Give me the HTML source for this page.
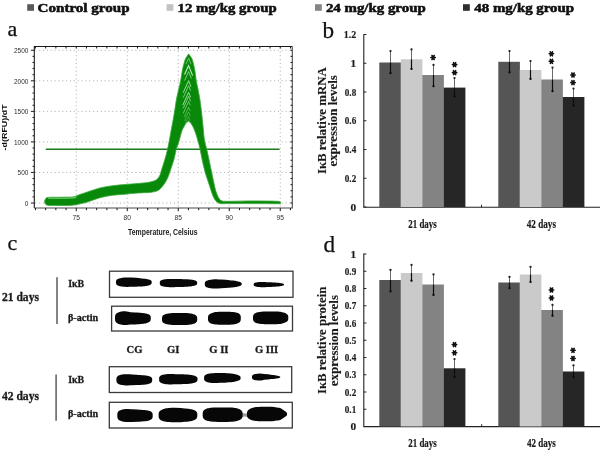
<!DOCTYPE html>
<html><head><meta charset="utf-8"><style>
html,body{margin:0;padding:0;background:#fff;width:600px;height:452px;overflow:hidden}
svg{display:block;will-change:transform}

text{font-family:"Liberation Serif",serif}
.leg{font-size:13px;font-weight:bold;fill:#111;stroke:#111;stroke-width:0.55}
.pl{font-size:22px;fill:#111;stroke:#111;stroke-width:0.25px}
.ta{font-family:"Liberation Sans",sans-serif;font-size:7.9px;fill:#2e2e2e}
.tt{font-family:"Liberation Sans",sans-serif;font-size:8.6px;font-weight:bold;fill:#222}
.tb{font-family:"Liberation Sans",sans-serif;font-size:7.6px;font-weight:bold;fill:#111}
.bt{stroke:#1a1a1a;stroke-width:0.18px;font-size:11.3px;font-weight:bold;fill:#1a1a1a}
.bx{stroke:#1a1a1a;stroke-width:0.2px;font-size:12px;font-weight:bold;fill:#1a1a1a}
.by{stroke:#1a1a1a;stroke-width:0.12px;font-size:11.5px;font-weight:bold;fill:#1a1a1a}
.cl{stroke:#1a1a1a;stroke-width:0.3px;font-size:11.7px;font-weight:bold;fill:#1a1a1a}
.cb{stroke:#1a1a1a;stroke-width:0.3px;font-size:10.6px;font-weight:bold;fill:#1a1a1a}
</style></head><body><div class="wrap">
<svg width="600" height="452" viewBox="0 0 600 452">
<rect x="27.2" y="4.2" width="6.8" height="6.6" fill="#5a5a5a"/>
<text x="37.6" y="12" class="leg" textLength="92.0" lengthAdjust="spacingAndGlyphs">Control group</text>
<rect x="166.6" y="4.2" width="6.8" height="6.6" fill="#c2c2c2"/>
<text x="177.6" y="12" class="leg" textLength="99.0" lengthAdjust="spacingAndGlyphs">12 mg/kg group</text>
<rect x="315.0" y="4.2" width="6.8" height="6.6" fill="#858585"/>
<text x="325.9" y="12" class="leg" textLength="99.8" lengthAdjust="spacingAndGlyphs">24 mg/kg group</text>
<rect x="463.0" y="4.2" width="6.8" height="6.6" fill="#2e2e2e"/>
<text x="474.3" y="12" class="leg" textLength="99.8" lengthAdjust="spacingAndGlyphs">48 mg/kg group</text>
<text x="7.6" y="35.8" class="pl">a</text>
<text x="322.4" y="37.9" class="pl" style="font-size:23.2px">b</text>
<text x="7.4" y="249.6" class="pl">c</text>
<text x="323.4" y="251.9" class="pl" style="font-size:23.2px">d</text>
<path d="M76.25 47.50V207.00 M127.25 47.50V207.00 M178.25 47.50V207.00 M229.25 47.50V207.00 M280.25 47.50V207.00 M35.30 203.00H291.30 M35.30 172.45H291.30 M35.30 141.90H291.30 M35.30 111.35H291.30 M35.30 80.80H291.30 M35.30 50.25H291.30" stroke="#a8a8a8" stroke-width="0.9" stroke-dasharray="1.1 2.75" fill="none"/>
<path d="M34.30 208.00V46.50H292.30" stroke="#1a1a1a" stroke-width="1.1" fill="none"/>
<path d="M292.30 46.50V208.00H34.30" stroke="#4a4a4a" stroke-width="1.1" fill="none"/>
<path d="M35.45 208.00v2.2 M35.45 46.50v2.0 M45.65 208.00v2.2 M45.65 46.50v2.0 M55.85 208.00v2.2 M55.85 46.50v2.0 M66.05 208.00v2.2 M66.05 46.50v2.0 M76.25 208.00v3.2 M76.25 46.50v2.0 M86.45 208.00v2.2 M86.45 46.50v2.0 M96.65 208.00v2.2 M96.65 46.50v2.0 M106.85 208.00v2.2 M106.85 46.50v2.0 M117.05 208.00v2.2 M117.05 46.50v2.0 M127.25 208.00v3.2 M127.25 46.50v2.0 M137.45 208.00v2.2 M137.45 46.50v2.0 M147.65 208.00v2.2 M147.65 46.50v2.0 M157.85 208.00v2.2 M157.85 46.50v2.0 M168.05 208.00v2.2 M168.05 46.50v2.0 M178.25 208.00v3.2 M178.25 46.50v2.0 M188.45 208.00v2.2 M188.45 46.50v2.0 M198.65 208.00v2.2 M198.65 46.50v2.0 M208.85 208.00v2.2 M208.85 46.50v2.0 M219.05 208.00v2.2 M219.05 46.50v2.0 M229.25 208.00v3.2 M229.25 46.50v2.0 M239.45 208.00v2.2 M239.45 46.50v2.0 M249.65 208.00v2.2 M249.65 46.50v2.0 M259.85 208.00v2.2 M259.85 46.50v2.0 M270.05 208.00v2.2 M270.05 46.50v2.0 M280.25 208.00v3.2 M280.25 46.50v2.0 M290.45 208.00v2.2 M290.45 46.50v2.0 M34.30 203.00h-3.4 M292.30 203.00h-1.8 M34.30 196.89h-1.8 M292.30 196.89h-1.8 M34.30 190.78h-1.8 M292.30 190.78h-1.8 M34.30 184.67h-1.8 M292.30 184.67h-1.8 M34.30 178.56h-1.8 M292.30 178.56h-1.8 M34.30 172.45h-3.4 M292.30 172.45h-1.8 M34.30 166.34h-1.8 M292.30 166.34h-1.8 M34.30 160.23h-1.8 M292.30 160.23h-1.8 M34.30 154.12h-1.8 M292.30 154.12h-1.8 M34.30 148.01h-1.8 M292.30 148.01h-1.8 M34.30 141.90h-3.4 M292.30 141.90h-1.8 M34.30 135.79h-1.8 M292.30 135.79h-1.8 M34.30 129.68h-1.8 M292.30 129.68h-1.8 M34.30 123.57h-1.8 M292.30 123.57h-1.8 M34.30 117.46h-1.8 M292.30 117.46h-1.8 M34.30 111.35h-3.4 M292.30 111.35h-1.8 M34.30 105.24h-1.8 M292.30 105.24h-1.8 M34.30 99.13h-1.8 M292.30 99.13h-1.8 M34.30 93.02h-1.8 M292.30 93.02h-1.8 M34.30 86.91h-1.8 M292.30 86.91h-1.8 M34.30 80.80h-3.4 M292.30 80.80h-1.8 M34.30 74.69h-1.8 M292.30 74.69h-1.8 M34.30 68.58h-1.8 M292.30 68.58h-1.8 M34.30 62.47h-1.8 M292.30 62.47h-1.8 M34.30 56.36h-1.8 M292.30 56.36h-1.8 M34.30 50.25h-3.4 M292.30 50.25h-1.8" stroke="#1a1a1a" stroke-width="1" fill="none"/>
<text x="76.15" y="220.3" class="ta" text-anchor="middle" textLength="7.4" lengthAdjust="spacingAndGlyphs">75</text>
<text x="127.15" y="220.3" class="ta" text-anchor="middle" textLength="7.4" lengthAdjust="spacingAndGlyphs">80</text>
<text x="178.15" y="220.3" class="ta" text-anchor="middle" textLength="7.4" lengthAdjust="spacingAndGlyphs">85</text>
<text x="229.15" y="220.3" class="ta" text-anchor="middle" textLength="7.4" lengthAdjust="spacingAndGlyphs">90</text>
<text x="280.15" y="220.3" class="ta" text-anchor="middle" textLength="7.4" lengthAdjust="spacingAndGlyphs">95</text>
<text x="28.4" y="205.90" class="ta" text-anchor="end" textLength="3.6" lengthAdjust="spacingAndGlyphs">0</text>
<text x="28.4" y="175.35" class="ta" text-anchor="end" textLength="10.8" lengthAdjust="spacingAndGlyphs">500</text>
<text x="28.4" y="144.80" class="ta" text-anchor="end" textLength="14.4" lengthAdjust="spacingAndGlyphs">1000</text>
<text x="28.4" y="114.25" class="ta" text-anchor="end" textLength="14.4" lengthAdjust="spacingAndGlyphs">1500</text>
<text x="28.4" y="83.70" class="ta" text-anchor="end" textLength="14.4" lengthAdjust="spacingAndGlyphs">2000</text>
<text x="28.4" y="53.15" class="ta" text-anchor="end" textLength="14.4" lengthAdjust="spacingAndGlyphs">2500</text>
<text x="162.8" y="235.4" class="tt" text-anchor="middle" textLength="69.5" lengthAdjust="spacingAndGlyphs">Temperature, Celsius</text>
<text transform="translate(6.8,127.4) rotate(-90)" class="tb" text-anchor="middle" textLength="46" lengthAdjust="spacingAndGlyphs">-d(RFU)/dT</text>
<path d="M45.8 149.2H279.6" stroke="#1b7a1b" stroke-width="1.55"/>
<path d="M47.00,197.40 C47.83,197.37 49.83,197.23 52.00,197.20 C54.17,197.17 57.33,197.22 60.00,197.20 C62.67,197.18 65.67,197.17 68.00,197.10 C70.33,197.03 72.33,197.12 74.00,196.80 C75.67,196.48 75.75,196.02 78.00,195.20 C80.25,194.38 83.83,193.12 87.50,191.90 C91.17,190.68 95.83,188.93 100.00,187.90 C104.17,186.87 108.33,186.27 112.50,185.70 C116.67,185.13 120.83,184.87 125.00,184.50 C129.17,184.13 133.67,183.85 137.50,183.50 C141.33,183.15 145.42,182.77 148.00,182.40 C150.58,182.03 151.58,181.73 153.00,181.30 C154.42,180.87 155.53,180.48 156.50,179.80 C157.47,179.12 158.18,178.08 158.80,177.20 C159.42,176.32 159.80,175.53 160.20,174.50 C160.60,173.47 160.77,172.42 161.20,171.00 C161.63,169.58 162.22,167.83 162.80,166.00 C163.38,164.17 164.10,162.00 164.70,160.00 C165.30,158.00 165.88,156.00 166.40,154.00 C166.92,152.00 167.30,150.33 167.80,148.00 C168.30,145.67 168.83,143.00 169.40,140.00 C169.97,137.00 170.58,133.33 171.20,130.00 C171.82,126.67 172.50,123.33 173.10,120.00 C173.70,116.67 174.27,113.33 174.80,110.00 C175.33,106.67 175.68,103.33 176.30,100.00 C176.92,96.67 177.78,93.17 178.50,90.00 C179.22,86.83 179.95,84.33 180.60,81.00 C181.25,77.67 181.67,73.50 182.40,70.00 C183.13,66.50 184.25,62.23 185.00,60.00 C185.75,57.77 186.30,57.58 186.90,56.60 C187.50,55.62 188.00,54.10 188.60,54.10 C189.20,54.10 189.87,55.62 190.50,56.60 C191.13,57.58 191.68,57.77 192.40,60.00 C193.12,62.23 194.15,66.50 194.80,70.00 C195.45,73.50 195.73,77.67 196.30,81.00 C196.87,84.33 197.58,86.83 198.20,90.00 C198.82,93.17 199.48,96.67 200.00,100.00 C200.52,103.33 200.90,106.67 201.30,110.00 C201.70,113.33 202.05,116.67 202.40,120.00 C202.75,123.33 203.07,126.67 203.40,130.00 C203.73,133.33 203.85,136.83 204.40,140.00 C204.95,143.17 205.92,145.67 206.70,149.00 C207.48,152.33 208.27,156.08 209.10,160.00 C209.93,163.92 210.93,168.83 211.70,172.50 C212.47,176.17 213.07,179.08 213.70,182.00 C214.33,184.92 214.87,187.75 215.50,190.00 C216.13,192.25 216.82,193.95 217.50,195.50 C218.18,197.05 218.85,198.40 219.60,199.30 C220.35,200.20 220.93,200.57 222.00,200.90 C223.07,201.23 223.83,201.25 226.00,201.30 C228.17,201.35 231.00,201.27 235.00,201.20 C239.00,201.13 245.00,200.93 250.00,200.90 C255.00,200.87 260.33,200.93 265.00,201.00 C269.67,201.07 275.42,201.13 278.00,201.30 C280.58,201.47 280.08,201.88 280.50,202.00 L280.50,203.80 C278.75,203.78 275.08,203.73 270.00,203.70 C264.92,203.67 256.67,203.62 250.00,203.60 C243.33,203.58 234.67,203.58 230.00,203.60 C225.33,203.62 223.92,203.80 222.00,203.70 C220.08,203.60 219.58,203.53 218.50,203.00 C217.42,202.47 216.42,201.67 215.50,200.50 C214.58,199.33 213.77,197.75 213.00,196.00 C212.23,194.25 211.68,192.33 210.90,190.00 C210.12,187.67 209.25,184.92 208.30,182.00 C207.35,179.08 206.18,176.00 205.20,172.50 C204.22,169.00 203.27,164.92 202.40,161.00 C201.53,157.08 200.78,152.50 200.00,149.00 C199.22,145.50 198.50,142.83 197.70,140.00 C196.90,137.17 196.05,134.33 195.20,132.00 C194.35,129.67 193.42,127.57 192.60,126.00 C191.78,124.43 191.02,123.33 190.30,122.60 C189.58,121.87 188.98,121.53 188.30,121.60 C187.62,121.67 186.95,122.10 186.20,123.00 C185.45,123.90 184.58,125.50 183.80,127.00 C183.02,128.50 182.23,129.83 181.50,132.00 C180.77,134.17 180.25,137.17 179.40,140.00 C178.55,142.83 177.10,146.67 176.40,149.00 C175.70,151.33 175.63,152.17 175.20,154.00 C174.77,155.83 174.37,158.00 173.80,160.00 C173.23,162.00 172.48,163.92 171.80,166.00 C171.12,168.08 170.40,170.50 169.70,172.50 C169.00,174.50 168.30,176.42 167.60,178.00 C166.90,179.58 166.18,180.83 165.50,182.00 C164.82,183.17 164.25,184.00 163.50,185.00 C162.75,186.00 161.83,187.13 161.00,188.00 C160.17,188.87 159.50,189.60 158.50,190.20 C157.50,190.80 156.42,191.23 155.00,191.60 C153.58,191.97 151.67,192.22 150.00,192.40 C148.33,192.58 147.08,192.58 145.00,192.70 C142.92,192.82 140.83,192.85 137.50,193.10 C134.17,193.35 129.17,193.83 125.00,194.20 C120.83,194.57 116.67,194.72 112.50,195.30 C108.33,195.88 104.17,196.58 100.00,197.70 C95.83,198.82 91.17,200.90 87.50,202.00 C83.83,203.10 80.92,203.73 78.00,204.30 C75.08,204.87 73.67,205.20 70.00,205.40 C66.33,205.60 59.58,205.50 56.00,205.50 C52.42,205.50 50.23,205.62 48.50,205.40 C46.77,205.18 46.25,204.83 45.60,204.20 C44.95,203.57 44.62,202.52 44.60,201.60 C44.58,200.68 45.35,199.18 45.50,198.70 Z" fill="#098909" stroke="#3aa83a" stroke-width="0.8" stroke-linejoin="round"/>
<path d="M48.00,198.30 C48.67,198.28 50.00,198.22 52.00,198.20 C54.00,198.18 57.33,198.22 60.00,198.20 C62.67,198.18 65.83,198.15 68.00,198.10 C70.17,198.05 71.58,198.08 73.00,197.90 C74.42,197.72 75.92,197.15 76.50,197.00" stroke="#6cc86c" stroke-width="1.6" fill="none" stroke-opacity="0.8"/>
<path d="M185.90 64.20L188.60 58.20L191.00 64.20" stroke="#bff0bf" stroke-opacity="0.60" stroke-width="0.9" fill="none"/><path d="M184.55 74.60L188.60 65.60L192.60 75.60" stroke="#bff0bf" stroke-opacity="1.00" stroke-width="1.1" fill="none"/><path d="M184.55 80.50L188.60 71.50L191.40 78.50" stroke="#bff0bf" stroke-opacity="0.70" stroke-width="0.9" fill="none"/><path d="M183.20 92.70L188.60 80.70L191.00 86.70" stroke="#bff0bf" stroke-opacity="0.80" stroke-width="1.0" fill="none"/><path d="M183.20 97.70L188.60 85.70L190.60 90.70" stroke="#bff0bf" stroke-opacity="0.70" stroke-width="0.9" fill="none"/><path d="M182.75 105.30L188.60 92.30L190.60 97.30" stroke="#bff0bf" stroke-opacity="0.80" stroke-width="1.0" fill="none"/><path d="M183.20 108.40L188.60 96.40L190.60 101.40" stroke="#bff0bf" stroke-opacity="0.70" stroke-width="0.9" fill="none"/><path d="M183.20 113.40L188.60 101.40L190.20 105.40" stroke="#bff0bf" stroke-opacity="0.60" stroke-width="0.9" fill="none"/><path d="M184.10 117.20L188.60 107.20L190.20 111.20" stroke="#bff0bf" stroke-opacity="0.55" stroke-width="0.8" fill="none"/><path d="M184.55 121.00L188.60 112.00L190.20 116.00" stroke="#bff0bf" stroke-opacity="0.45" stroke-width="0.8" fill="none"/><path d="M185.45 123.50L188.60 116.50L190.20 120.50" stroke="#bff0bf" stroke-opacity="0.35" stroke-width="0.8" fill="none"/><path d="M186.35 125.30L188.60 120.30L190.20 124.30" stroke="#bff0bf" stroke-opacity="0.30" stroke-width="0.8" fill="none"/>
<path d="M363.8 34.2V207.2H600" stroke="#222" stroke-width="1.1" fill="none"/>
<path d="M363.8 207.00h2.6 M363.8 178.25h2.6 M363.8 149.50h2.6 M363.8 120.75h2.6 M363.8 92.00h2.6 M363.8 63.25h2.6 M363.8 34.50h2.6" stroke="#222" stroke-width="1" fill="none"/>
<path d="M481.5 207.2v-2.4" stroke="#222" stroke-width="1"/>
<text x="356.2" y="38.20" class="bt" text-anchor="end" textLength="12.4" lengthAdjust="spacingAndGlyphs">1.2</text>
<text x="356.2" y="66.95" class="bt" text-anchor="end">1</text>
<text x="356.2" y="95.70" class="bt" text-anchor="end" textLength="11.4" lengthAdjust="spacingAndGlyphs">0.8</text>
<text x="356.2" y="124.45" class="bt" text-anchor="end" textLength="11.4" lengthAdjust="spacingAndGlyphs">0.6</text>
<text x="356.2" y="153.20" class="bt" text-anchor="end" textLength="11.4" lengthAdjust="spacingAndGlyphs">0.4</text>
<text x="356.2" y="181.95" class="bt" text-anchor="end" textLength="11.4" lengthAdjust="spacingAndGlyphs">0.2</text>
<text x="356.2" y="210.70" class="bt" text-anchor="end">0</text>
<rect x="379.30" y="62.50" width="21.60" height="144.50" fill="#555555"/>
<rect x="400.80" y="59.30" width="21.60" height="147.70" fill="#cacaca"/>
<rect x="422.30" y="75.00" width="21.60" height="132.00" fill="#838383"/>
<rect x="443.80" y="87.60" width="21.60" height="119.40" fill="#262626"/>
<rect x="498.30" y="61.80" width="21.60" height="145.20" fill="#555555"/>
<rect x="519.80" y="70.00" width="21.60" height="137.00" fill="#cacaca"/>
<rect x="541.30" y="79.50" width="21.60" height="127.50" fill="#838383"/>
<rect x="562.80" y="97.00" width="21.60" height="110.00" fill="#262626"/>
<path d="M390.50 50.50V62.50" stroke="#6a6a6a" stroke-width="1" fill="none"/>
<path d="M390.50 62.50V73.80" stroke="#0d0d0d" stroke-width="1.2" fill="none"/>
<circle cx="390.50" cy="51.10" r="1.15" fill="#222"/><circle cx="390.50" cy="73.20" r="1.15" fill="#0a0a0a"/>
<path d="M411.50 48.80V59.30" stroke="#6a6a6a" stroke-width="1" fill="none"/>
<path d="M411.50 59.30V69.50" stroke="#0d0d0d" stroke-width="1.2" fill="none"/>
<circle cx="411.50" cy="49.40" r="1.15" fill="#222"/><circle cx="411.50" cy="68.90" r="1.15" fill="#0a0a0a"/>
<path d="M433.50 64.30V75.00" stroke="#6a6a6a" stroke-width="1" fill="none"/>
<path d="M433.50 75.00V86.80" stroke="#0d0d0d" stroke-width="1.2" fill="none"/>
<circle cx="433.50" cy="64.90" r="1.15" fill="#222"/><circle cx="433.50" cy="86.20" r="1.15" fill="#0a0a0a"/>
<path d="M454.50 77.50V87.60" stroke="#6a6a6a" stroke-width="1" fill="none"/>
<path d="M454.50 87.60V97.00" stroke="#0d0d0d" stroke-width="1.2" fill="none"/>
<circle cx="454.50" cy="78.10" r="1.15" fill="#222"/><circle cx="454.50" cy="96.40" r="1.15" fill="#0a0a0a"/>
<path d="M509.50 50.50V61.80" stroke="#6a6a6a" stroke-width="1" fill="none"/>
<path d="M509.50 61.80V73.00" stroke="#0d0d0d" stroke-width="1.2" fill="none"/>
<circle cx="509.50" cy="51.10" r="1.15" fill="#222"/><circle cx="509.50" cy="72.40" r="1.15" fill="#0a0a0a"/>
<path d="M530.50 60.50V70.00" stroke="#6a6a6a" stroke-width="1" fill="none"/>
<path d="M530.50 70.00V79.50" stroke="#0d0d0d" stroke-width="1.2" fill="none"/>
<circle cx="530.50" cy="61.10" r="1.15" fill="#222"/><circle cx="530.50" cy="78.90" r="1.15" fill="#0a0a0a"/>
<path d="M552.50 67.00V79.50" stroke="#6a6a6a" stroke-width="1" fill="none"/>
<path d="M552.50 79.50V91.80" stroke="#0d0d0d" stroke-width="1.2" fill="none"/>
<circle cx="552.50" cy="67.60" r="1.15" fill="#222"/><circle cx="552.50" cy="91.20" r="1.15" fill="#0a0a0a"/>
<path d="M573.50 88.00V97.00" stroke="#6a6a6a" stroke-width="1" fill="none"/>
<path d="M573.50 97.00V106.30" stroke="#0d0d0d" stroke-width="1.2" fill="none"/>
<circle cx="573.50" cy="88.60" r="1.15" fill="#222"/><circle cx="573.50" cy="105.70" r="1.15" fill="#0a0a0a"/>
<g transform="translate(433.10,57.50)"><path d="M-2.2 0H2.2M-1.1 -2.0L1.1 2.0M1.1 -2.0L-1.1 2.0" stroke="#111" stroke-width="1.6" stroke-linecap="round"/></g>
<g transform="translate(454.60,64.60)"><path d="M-2.2 0H2.2M-1.1 -2.0L1.1 2.0M1.1 -2.0L-1.1 2.0" stroke="#111" stroke-width="1.6" stroke-linecap="round"/></g>
<g transform="translate(454.60,72.60)"><path d="M-2.2 0H2.2M-1.1 -2.0L1.1 2.0M1.1 -2.0L-1.1 2.0" stroke="#111" stroke-width="1.6" stroke-linecap="round"/></g>
<g transform="translate(551.40,53.80)"><path d="M-2.2 0H2.2M-1.1 -2.0L1.1 2.0M1.1 -2.0L-1.1 2.0" stroke="#111" stroke-width="1.6" stroke-linecap="round"/></g>
<g transform="translate(551.40,61.30)"><path d="M-2.2 0H2.2M-1.1 -2.0L1.1 2.0M1.1 -2.0L-1.1 2.0" stroke="#111" stroke-width="1.6" stroke-linecap="round"/></g>
<g transform="translate(573.00,75.00)"><path d="M-2.2 0H2.2M-1.1 -2.0L1.1 2.0M1.1 -2.0L-1.1 2.0" stroke="#111" stroke-width="1.6" stroke-linecap="round"/></g>
<g transform="translate(573.00,82.60)"><path d="M-2.2 0H2.2M-1.1 -2.0L1.1 2.0M1.1 -2.0L-1.1 2.0" stroke="#111" stroke-width="1.6" stroke-linecap="round"/></g>
<text x="422.5" y="227.5" class="bx" text-anchor="middle" textLength="28.4" lengthAdjust="spacingAndGlyphs">21 days</text>
<text x="541.4" y="227.5" class="bx" text-anchor="middle" textLength="29.2" lengthAdjust="spacingAndGlyphs">42 days</text>
<text transform="translate(325.9,120.6) rotate(-90)" class="by" text-anchor="middle" textLength="107" lengthAdjust="spacingAndGlyphs">I&#954;B relative mRNA</text>
<text transform="translate(336.9,120.9) rotate(-90)" class="by" text-anchor="middle" textLength="91.4" lengthAdjust="spacingAndGlyphs">expression levels</text>
<path d="M363.8 253.5V426.6H600" stroke="#222" stroke-width="1.1" fill="none"/>
<path d="M363.8 426.50h2.6 M363.8 409.25h2.6 M363.8 392.00h2.6 M363.8 374.75h2.6 M363.8 357.50h2.6 M363.8 340.25h2.6 M363.8 323.00h2.6 M363.8 305.75h2.6 M363.8 288.50h2.6 M363.8 271.25h2.6 M363.8 254.00h2.6" stroke="#222" stroke-width="1" fill="none"/>
<path d="M481.7 426.6v-2.4" stroke="#222" stroke-width="1"/>
<text x="356.2" y="430.20" class="bt" text-anchor="end">0</text>
<text x="356.2" y="412.95" class="bt" text-anchor="end" textLength="11.4" lengthAdjust="spacingAndGlyphs">0.1</text>
<text x="356.2" y="395.70" class="bt" text-anchor="end" textLength="11.4" lengthAdjust="spacingAndGlyphs">0.2</text>
<text x="356.2" y="378.45" class="bt" text-anchor="end" textLength="11.4" lengthAdjust="spacingAndGlyphs">0.3</text>
<text x="356.2" y="361.20" class="bt" text-anchor="end" textLength="11.4" lengthAdjust="spacingAndGlyphs">0.4</text>
<text x="356.2" y="343.95" class="bt" text-anchor="end" textLength="11.4" lengthAdjust="spacingAndGlyphs">0.5</text>
<text x="356.2" y="326.70" class="bt" text-anchor="end" textLength="11.4" lengthAdjust="spacingAndGlyphs">0.6</text>
<text x="356.2" y="309.45" class="bt" text-anchor="end" textLength="11.4" lengthAdjust="spacingAndGlyphs">0.7</text>
<text x="356.2" y="292.20" class="bt" text-anchor="end" textLength="11.4" lengthAdjust="spacingAndGlyphs">0.8</text>
<text x="356.2" y="274.95" class="bt" text-anchor="end" textLength="11.4" lengthAdjust="spacingAndGlyphs">0.9</text>
<text x="356.2" y="257.70" class="bt" text-anchor="end">1</text>
<rect x="379.30" y="280.00" width="21.60" height="146.50" fill="#555555"/>
<rect x="400.80" y="273.00" width="21.60" height="153.50" fill="#cacaca"/>
<rect x="422.30" y="284.50" width="21.60" height="142.00" fill="#838383"/>
<rect x="443.80" y="368.30" width="21.60" height="58.20" fill="#262626"/>
<rect x="498.30" y="282.50" width="21.60" height="144.00" fill="#555555"/>
<rect x="519.80" y="274.50" width="21.60" height="152.00" fill="#cacaca"/>
<rect x="541.30" y="310.00" width="21.60" height="116.50" fill="#838383"/>
<rect x="562.80" y="371.50" width="21.60" height="55.00" fill="#262626"/>
<path d="M390.50 269.30V280.00" stroke="#6a6a6a" stroke-width="1" fill="none"/>
<path d="M390.50 280.00V292.00" stroke="#0d0d0d" stroke-width="1.2" fill="none"/>
<circle cx="390.50" cy="269.90" r="1.15" fill="#222"/><circle cx="390.50" cy="291.40" r="1.15" fill="#0a0a0a"/>
<path d="M411.50 264.30V273.00" stroke="#6a6a6a" stroke-width="1" fill="none"/>
<path d="M411.50 273.00V281.30" stroke="#0d0d0d" stroke-width="1.2" fill="none"/>
<circle cx="411.50" cy="264.90" r="1.15" fill="#222"/><circle cx="411.50" cy="280.70" r="1.15" fill="#0a0a0a"/>
<path d="M433.50 273.80V284.50" stroke="#6a6a6a" stroke-width="1" fill="none"/>
<path d="M433.50 284.50V295.50" stroke="#0d0d0d" stroke-width="1.2" fill="none"/>
<circle cx="433.50" cy="274.40" r="1.15" fill="#222"/><circle cx="433.50" cy="294.90" r="1.15" fill="#0a0a0a"/>
<path d="M454.50 358.50V368.30" stroke="#6a6a6a" stroke-width="1" fill="none"/>
<path d="M454.50 368.30V377.80" stroke="#0d0d0d" stroke-width="1.2" fill="none"/>
<circle cx="454.50" cy="359.10" r="1.15" fill="#222"/><circle cx="454.50" cy="377.20" r="1.15" fill="#0a0a0a"/>
<path d="M509.50 276.30V282.50" stroke="#6a6a6a" stroke-width="1" fill="none"/>
<path d="M509.50 282.50V288.80" stroke="#0d0d0d" stroke-width="1.2" fill="none"/>
<circle cx="509.50" cy="276.90" r="1.15" fill="#222"/><circle cx="509.50" cy="288.20" r="1.15" fill="#0a0a0a"/>
<path d="M530.50 266.30V274.50" stroke="#6a6a6a" stroke-width="1" fill="none"/>
<path d="M530.50 274.50V282.50" stroke="#0d0d0d" stroke-width="1.2" fill="none"/>
<circle cx="530.50" cy="266.90" r="1.15" fill="#222"/><circle cx="530.50" cy="281.90" r="1.15" fill="#0a0a0a"/>
<path d="M552.50 304.30V310.00" stroke="#6a6a6a" stroke-width="1" fill="none"/>
<path d="M552.50 310.00V316.30" stroke="#0d0d0d" stroke-width="1.2" fill="none"/>
<circle cx="552.50" cy="304.90" r="1.15" fill="#222"/><circle cx="552.50" cy="315.70" r="1.15" fill="#0a0a0a"/>
<path d="M573.50 364.80V371.50" stroke="#6a6a6a" stroke-width="1" fill="none"/>
<path d="M573.50 371.50V377.80" stroke="#0d0d0d" stroke-width="1.2" fill="none"/>
<circle cx="573.50" cy="365.40" r="1.15" fill="#222"/><circle cx="573.50" cy="377.20" r="1.15" fill="#0a0a0a"/>
<g transform="translate(454.50,344.60)"><path d="M-2.2 0H2.2M-1.1 -2.0L1.1 2.0M1.1 -2.0L-1.1 2.0" stroke="#111" stroke-width="1.6" stroke-linecap="round"/></g>
<g transform="translate(454.50,352.80)"><path d="M-2.2 0H2.2M-1.1 -2.0L1.1 2.0M1.1 -2.0L-1.1 2.0" stroke="#111" stroke-width="1.6" stroke-linecap="round"/></g>
<g transform="translate(551.50,290.00)"><path d="M-2.2 0H2.2M-1.1 -2.0L1.1 2.0M1.1 -2.0L-1.1 2.0" stroke="#111" stroke-width="1.6" stroke-linecap="round"/></g>
<g transform="translate(551.50,298.00)"><path d="M-2.2 0H2.2M-1.1 -2.0L1.1 2.0M1.1 -2.0L-1.1 2.0" stroke="#111" stroke-width="1.6" stroke-linecap="round"/></g>
<g transform="translate(573.00,350.30)"><path d="M-2.2 0H2.2M-1.1 -2.0L1.1 2.0M1.1 -2.0L-1.1 2.0" stroke="#111" stroke-width="1.6" stroke-linecap="round"/></g>
<g transform="translate(573.00,358.50)"><path d="M-2.2 0H2.2M-1.1 -2.0L1.1 2.0M1.1 -2.0L-1.1 2.0" stroke="#111" stroke-width="1.6" stroke-linecap="round"/></g>
<text x="422.5" y="446.7" class="bx" text-anchor="middle" textLength="28.5" lengthAdjust="spacingAndGlyphs">21 days</text>
<text x="541.4" y="446.7" class="bx" text-anchor="middle" textLength="28.8" lengthAdjust="spacingAndGlyphs">42 days</text>
<text transform="translate(326.0,340.3) rotate(-90)" class="by" text-anchor="middle" textLength="107.4" lengthAdjust="spacingAndGlyphs">I&#954;B relative protein</text>
<text transform="translate(337.6,340.6) rotate(-90)" class="by" text-anchor="middle" textLength="91.1" lengthAdjust="spacingAndGlyphs">expression levels</text>
<text x="1.9" y="301.1" class="cl" textLength="37.1" lengthAdjust="spacingAndGlyphs">21 days</text>
<text x="1.9" y="399.9" class="cl" textLength="37.1" lengthAdjust="spacingAndGlyphs">42 days</text>
<path d="M57.0 277.2V324.0M56.1 374.6V420.8" stroke="#666" stroke-width="1.6"/>
<text x="68.2" y="286.6" class="cb" textLength="15.9" lengthAdjust="spacingAndGlyphs">I&#954;B</text>
<text x="68.0" y="321.2" class="cb" textLength="30.2" lengthAdjust="spacingAndGlyphs">&#946;-actin</text>
<text x="68.2" y="382.8" class="cb" textLength="15.9" lengthAdjust="spacingAndGlyphs">I&#954;B</text>
<text x="68.0" y="416.9" class="cb" textLength="30.2" lengthAdjust="spacingAndGlyphs">&#946;-actin</text>
<text x="134.5" y="353.3" class="cb" text-anchor="middle">CG</text>
<text x="173.3" y="353.3" class="cb" text-anchor="middle">GI</text>
<text x="218.9" y="353.3" class="cb" text-anchor="middle">G II</text>
<text x="266.6" y="353.3" class="cb" text-anchor="middle">G III</text>
<rect x="109.5" y="271.2" width="183.5" height="26.1" fill="none" stroke="#3a3a3a" stroke-width="1.3"/>
<rect x="111.6" y="306.2" width="180.9" height="24.8" fill="none" stroke="#3a3a3a" stroke-width="1.3"/>
<rect x="109.3" y="366.7" width="182.4" height="25.8" fill="none" stroke="#3a3a3a" stroke-width="1.3"/>
<rect x="109.3" y="402.3" width="183.0" height="25.7" fill="none" stroke="#3a3a3a" stroke-width="1.3"/>
<path d="M241.5 412.6Q245 414.6 248.5 412.6V417.4Q245 415.6 241.5 417.4Z" fill="#9a9a9a"/>
<path d="M151.70,282.20 L151.67,283.01 L151.59,283.43 L151.46,283.78 L151.28,284.07 L151.04,284.33 L150.75,284.57 L150.40,284.79 L150.00,284.99 L149.55,285.18 L149.04,285.36 L148.47,285.53 L147.84,285.69 L147.15,285.84 L146.40,285.98 L145.58,286.11 L144.68,286.22 L143.69,286.32 L142.61,286.39 L141.40,286.46 L140.03,286.53 L138.39,286.62 L136.19,286.72 L131.51,286.80 L129.31,286.87 L127.67,286.90 L126.30,286.90 L125.09,286.86 L124.01,286.79 L123.02,286.70 L122.12,286.60 L121.30,286.48 L120.55,286.35 L119.86,286.21 L119.23,286.05 L118.66,285.87 L118.15,285.68 L117.70,285.47 L117.30,285.24 L116.95,284.98 L116.66,284.71 L116.42,284.40 L116.24,284.05 L116.11,283.65 L116.03,283.16 L116.00,282.20 L116.03,281.29 L116.11,280.82 L116.24,280.44 L116.42,280.11 L116.66,279.82 L116.95,279.55 L117.30,279.31 L117.70,279.08 L118.15,278.87 L118.66,278.67 L119.23,278.49 L119.86,278.31 L120.55,278.15 L121.30,277.99 L122.12,277.85 L123.02,277.73 L124.01,277.62 L125.09,277.54 L126.30,277.50 L127.67,277.50 L129.31,277.53 L131.51,277.60 L136.19,277.78 L138.39,278.07 L140.03,278.31 L141.40,278.47 L142.61,278.57 L143.69,278.64 L144.68,278.74 L145.58,278.87 L146.40,279.01 L147.15,279.16 L147.84,279.31 L148.47,279.47 L149.04,279.62 L149.55,279.78 L150.00,279.95 L150.40,280.12 L150.75,280.30 L151.04,280.49 L151.28,280.70 L151.46,280.94 L151.59,281.21 L151.67,281.55 Z" fill="#070707"/>
<path d="M197.20,283.05 L197.17,283.71 L197.09,284.05 L196.95,284.33 L196.76,284.57 L196.51,284.78 L196.20,284.98 L195.84,285.16 L195.42,285.33 L194.95,285.50 L194.41,285.66 L193.82,285.81 L193.16,285.96 L192.44,286.11 L191.65,286.25 L190.79,286.39 L189.84,286.51 L188.81,286.61 L187.68,286.68 L186.41,286.74 L184.97,286.82 L183.26,286.92 L180.95,287.04 L176.05,287.12 L173.74,287.18 L172.03,287.21 L170.59,287.21 L169.32,287.17 L168.19,287.11 L167.16,287.03 L166.21,286.95 L165.35,286.84 L164.56,286.73 L163.84,286.60 L163.18,286.46 L162.59,286.30 L162.05,286.13 L161.58,285.94 L161.16,285.74 L160.80,285.51 L160.49,285.27 L160.24,285.00 L160.05,284.69 L159.91,284.34 L159.83,283.90 L159.80,283.05 L159.83,282.20 L159.91,281.76 L160.05,281.41 L160.24,281.10 L160.49,280.83 L160.80,280.59 L161.16,280.36 L161.58,280.16 L162.05,279.97 L162.59,279.80 L163.18,279.64 L163.84,279.50 L164.56,279.37 L165.35,279.26 L166.21,279.15 L167.16,279.07 L168.19,278.99 L169.32,278.93 L170.59,278.89 L172.03,278.89 L173.74,278.92 L176.05,278.98 L180.95,279.05 L183.26,279.13 L184.97,279.21 L186.41,279.28 L187.68,279.34 L188.81,279.40 L189.84,279.49 L190.79,279.59 L191.65,279.70 L192.44,279.83 L193.16,279.96 L193.82,280.10 L194.41,280.25 L194.95,280.41 L195.42,280.58 L195.84,280.76 L196.20,280.95 L196.51,281.16 L196.76,281.40 L196.95,281.66 L197.09,281.96 L197.17,282.33 Z" fill="#070707"/>
<path d="M241.70,283.95 L241.67,284.52 L241.59,284.81 L241.45,285.05 L241.26,285.26 L241.02,285.44 L240.72,285.62 L240.36,285.78 L239.95,285.94 L239.48,286.09 L238.95,286.25 L238.36,286.41 L237.71,286.57 L237.00,286.73 L236.22,286.90 L235.37,287.06 L234.44,287.21 L233.43,287.33 L232.31,287.41 L231.06,287.49 L229.64,287.64 L227.94,287.85 L225.66,288.10 L220.84,288.30 L218.56,288.45 L216.86,288.55 L215.44,288.58 L214.19,288.56 L213.07,288.49 L212.06,288.40 L211.13,288.30 L210.28,288.19 L209.50,288.06 L208.79,287.92 L208.14,287.76 L207.55,287.58 L207.02,287.39 L206.55,287.18 L206.14,286.95 L205.78,286.70 L205.48,286.43 L205.24,286.13 L205.05,285.78 L204.91,285.39 L204.83,284.90 L204.80,283.95 L204.83,283.05 L204.91,282.58 L205.05,282.21 L205.24,281.88 L205.48,281.59 L205.78,281.33 L206.14,281.09 L206.55,280.86 L207.02,280.65 L207.55,280.46 L208.14,280.27 L208.79,280.10 L209.50,279.94 L210.28,279.79 L211.13,279.65 L212.06,279.52 L213.07,279.42 L214.19,279.34 L215.44,279.32 L216.86,279.35 L218.56,279.45 L220.84,279.60 L225.66,279.80 L227.94,280.05 L229.64,280.26 L231.06,280.41 L232.31,280.49 L233.43,280.57 L234.44,280.70 L235.37,280.86 L236.22,281.03 L237.00,281.21 L237.71,281.38 L238.36,281.55 L238.95,281.71 L239.48,281.87 L239.95,282.02 L240.36,282.18 L240.72,282.34 L241.02,282.51 L241.26,282.69 L241.45,282.89 L241.59,283.12 L241.67,283.40 Z" fill="#070707"/>
<path d="M284.00,284.50 L283.98,284.85 L283.91,285.03 L283.80,285.17 L283.64,285.30 L283.44,285.41 L283.19,285.52 L282.90,285.62 L282.56,285.71 L282.17,285.81 L281.74,285.90 L281.26,286.00 L280.73,286.10 L280.14,286.20 L279.50,286.30 L278.80,286.40 L278.04,286.49 L277.21,286.57 L276.29,286.61 L275.26,286.66 L274.09,286.74 L272.70,286.85 L270.83,286.99 L266.87,287.09 L265.00,287.15 L263.61,287.18 L262.44,287.19 L261.41,287.17 L260.49,287.13 L259.66,287.08 L258.90,287.02 L258.20,286.96 L257.56,286.88 L256.97,286.80 L256.44,286.71 L255.96,286.61 L255.53,286.50 L255.14,286.37 L254.80,286.24 L254.51,286.10 L254.26,285.94 L254.06,285.76 L253.90,285.56 L253.79,285.33 L253.72,285.05 L253.70,284.50 L253.72,283.98 L253.79,283.71 L253.90,283.49 L254.06,283.30 L254.26,283.14 L254.51,282.99 L254.80,282.85 L255.14,282.72 L255.53,282.61 L255.96,282.50 L256.44,282.41 L256.97,282.32 L257.56,282.24 L258.20,282.17 L258.90,282.11 L259.66,282.05 L260.49,282.01 L261.41,281.97 L262.44,281.96 L263.61,281.98 L265.00,282.04 L266.87,282.13 L270.83,282.25 L272.70,282.41 L274.09,282.54 L275.26,282.62 L276.29,282.67 L277.21,282.71 L278.04,282.78 L278.80,282.87 L279.50,282.96 L280.14,283.05 L280.73,283.14 L281.26,283.23 L281.74,283.32 L282.17,283.40 L282.56,283.49 L282.90,283.57 L283.19,283.65 L283.44,283.74 L283.64,283.83 L283.80,283.94 L283.91,284.06 L283.98,284.21 Z" fill="#070707"/>
<path d="M150.80,318.10 L150.77,319.26 L150.69,319.86 L150.56,320.35 L150.38,320.77 L150.14,321.14 L149.85,321.48 L149.50,321.79 L149.10,322.08 L148.64,322.34 L148.13,322.59 L147.56,322.82 L146.93,323.03 L146.24,323.23 L145.49,323.42 L144.66,323.59 L143.76,323.73 L142.77,323.86 L141.69,323.95 L140.47,324.05 L139.10,324.16 L137.45,324.29 L135.24,324.43 L130.56,324.61 L128.35,324.83 L126.70,324.98 L125.33,325.03 L124.11,324.99 L123.03,324.88 L122.04,324.76 L121.14,324.61 L120.31,324.44 L119.56,324.25 L118.87,324.03 L118.24,323.79 L117.67,323.53 L117.16,323.25 L116.70,322.93 L116.30,322.59 L115.95,322.22 L115.66,321.81 L115.42,321.35 L115.24,320.84 L115.11,320.25 L115.03,319.51 L115.00,318.10 L115.03,316.69 L115.11,315.95 L115.24,315.36 L115.42,314.85 L115.66,314.39 L115.95,313.98 L116.30,313.61 L116.70,313.27 L117.16,312.95 L117.67,312.67 L118.24,312.41 L118.87,312.17 L119.56,311.95 L120.31,311.76 L121.14,311.59 L122.04,311.44 L123.03,311.32 L124.11,311.21 L125.33,311.22 L126.70,311.38 L128.35,311.71 L130.56,312.18 L135.24,312.48 L137.45,312.62 L139.10,312.74 L140.47,312.85 L141.69,312.93 L142.77,313.02 L143.76,313.13 L144.66,313.27 L145.49,313.42 L146.24,313.58 L146.93,313.76 L147.56,313.95 L148.13,314.15 L148.64,314.37 L149.10,314.61 L149.50,314.86 L149.85,315.13 L150.14,315.43 L150.38,315.76 L150.56,316.13 L150.69,316.55 L150.77,317.08 Z" fill="#070707"/>
<path d="M197.20,319.00 L197.17,320.14 L197.10,320.73 L196.97,321.20 L196.78,321.61 L196.55,321.98 L196.26,322.31 L195.92,322.62 L195.53,322.90 L195.08,323.16 L194.57,323.41 L194.01,323.64 L193.40,323.86 L192.72,324.07 L191.97,324.26 L191.16,324.43 L190.28,324.59 L189.31,324.72 L188.24,324.82 L187.05,324.89 L185.69,324.94 L184.08,324.98 L181.90,325.00 L177.30,325.00 L175.12,324.98 L173.51,324.94 L172.15,324.89 L170.96,324.82 L169.89,324.73 L168.92,324.62 L168.04,324.50 L167.23,324.36 L166.48,324.19 L165.80,324.01 L165.19,323.81 L164.63,323.59 L164.12,323.35 L163.67,323.08 L163.28,322.79 L162.94,322.48 L162.65,322.13 L162.42,321.75 L162.23,321.32 L162.10,320.82 L162.03,320.19 L162.00,319.00 L162.03,317.81 L162.10,317.18 L162.23,316.68 L162.42,316.25 L162.65,315.87 L162.94,315.52 L163.28,315.21 L163.67,314.92 L164.12,314.65 L164.63,314.41 L165.19,314.19 L165.80,313.99 L166.48,313.81 L167.23,313.64 L168.04,313.50 L168.92,313.38 L169.89,313.27 L170.96,313.18 L172.15,313.11 L173.51,313.06 L175.12,313.02 L177.30,313.00 L181.90,313.00 L184.08,313.02 L185.69,313.06 L187.05,313.11 L188.24,313.18 L189.31,313.28 L190.28,313.41 L191.16,313.57 L191.97,313.74 L192.72,313.93 L193.40,314.14 L194.01,314.36 L194.57,314.59 L195.08,314.84 L195.53,315.10 L195.92,315.38 L196.26,315.69 L196.55,316.02 L196.78,316.39 L196.97,316.80 L197.10,317.27 L197.17,317.86 Z" fill="#070707"/>
<path d="M240.80,318.25 L240.78,319.47 L240.70,320.10 L240.58,320.62 L240.41,321.06 L240.19,321.45 L239.93,321.81 L239.61,322.14 L239.24,322.44 L238.82,322.72 L238.35,322.99 L237.83,323.24 L237.26,323.48 L236.62,323.70 L235.93,323.90 L235.17,324.09 L234.35,324.26 L233.44,324.40 L232.45,324.51 L231.34,324.58 L230.08,324.64 L228.57,324.68 L226.55,324.70 L222.25,324.70 L220.23,324.68 L218.72,324.64 L217.46,324.58 L216.35,324.51 L215.36,324.41 L214.45,324.30 L213.63,324.16 L212.87,324.01 L212.18,323.83 L211.54,323.64 L210.97,323.42 L210.45,323.18 L209.98,322.92 L209.56,322.64 L209.19,322.33 L208.87,321.99 L208.61,321.62 L208.39,321.20 L208.22,320.74 L208.10,320.20 L208.02,319.53 L208.00,318.25 L208.02,317.09 L208.10,316.49 L208.22,316.01 L208.39,315.59 L208.61,315.21 L208.87,314.87 L209.19,314.56 L209.56,314.26 L209.98,313.97 L210.45,313.70 L210.97,313.44 L211.54,313.19 L212.18,312.94 L212.87,312.70 L213.63,312.48 L214.45,312.27 L215.36,312.11 L216.35,311.99 L217.46,311.92 L218.72,311.86 L220.23,311.82 L222.25,311.80 L226.55,311.80 L228.57,311.82 L230.08,311.86 L231.34,311.92 L232.45,311.99 L233.44,312.09 L234.35,312.20 L235.17,312.34 L235.93,312.49 L236.62,312.67 L237.26,312.86 L237.83,313.08 L238.35,313.32 L238.82,313.58 L239.24,313.86 L239.61,314.17 L239.93,314.51 L240.19,314.88 L240.41,315.30 L240.58,315.76 L240.70,316.30 L240.78,316.97 Z" fill="#070707"/>
<path d="M288.30,317.85 L288.27,318.99 L288.20,319.58 L288.07,320.06 L287.88,320.47 L287.65,320.84 L287.36,321.17 L287.02,321.49 L286.62,321.78 L286.17,322.06 L285.67,322.33 L285.11,322.58 L284.49,322.84 L283.80,323.08 L283.06,323.31 L282.25,323.53 L281.36,323.73 L280.38,323.90 L279.31,324.01 L278.12,324.09 L276.76,324.14 L275.14,324.18 L272.96,324.20 L268.34,324.20 L266.16,324.18 L264.54,324.14 L263.18,324.09 L261.99,324.01 L260.92,323.92 L259.94,323.80 L259.05,323.67 L258.24,323.52 L257.50,323.35 L256.81,323.15 L256.19,322.94 L255.63,322.71 L255.13,322.45 L254.68,322.17 L254.28,321.87 L253.94,321.53 L253.65,321.16 L253.42,320.76 L253.23,320.30 L253.10,319.77 L253.03,319.11 L253.00,317.85 L253.03,316.59 L253.10,315.93 L253.23,315.40 L253.42,314.94 L253.65,314.54 L253.94,314.17 L254.28,313.83 L254.68,313.53 L255.13,313.25 L255.63,312.99 L256.19,312.76 L256.81,312.55 L257.50,312.35 L258.24,312.18 L259.05,312.03 L259.94,311.90 L260.92,311.78 L261.99,311.69 L263.18,311.61 L264.54,311.56 L266.16,311.52 L268.34,311.50 L272.96,311.50 L275.14,311.52 L276.76,311.56 L278.12,311.61 L279.31,311.69 L280.38,311.80 L281.36,311.97 L282.25,312.17 L283.06,312.39 L283.80,312.62 L284.49,312.86 L285.11,313.12 L285.67,313.37 L286.17,313.64 L286.62,313.92 L287.02,314.21 L287.36,314.53 L287.65,314.86 L287.88,315.23 L288.07,315.64 L288.20,316.12 L288.27,316.71 Z" fill="#070707"/>
<path d="M152.20,379.80 L152.17,380.78 L152.09,381.29 L151.96,381.70 L151.78,382.06 L151.54,382.37 L151.25,382.66 L150.90,382.92 L150.50,383.17 L150.04,383.39 L149.53,383.60 L148.96,383.79 L148.33,383.98 L147.64,384.14 L146.89,384.30 L146.06,384.44 L145.16,384.57 L144.17,384.67 L143.09,384.75 L141.87,384.83 L140.50,384.91 L138.85,385.00 L136.64,385.09 L131.96,385.21 L129.75,385.36 L128.10,385.44 L126.73,385.47 L125.51,385.43 L124.43,385.34 L123.44,385.24 L122.54,385.12 L121.71,384.98 L120.96,384.82 L120.27,384.64 L119.64,384.45 L119.07,384.24 L118.56,384.00 L118.10,383.75 L117.70,383.47 L117.35,383.16 L117.06,382.83 L116.82,382.46 L116.64,382.04 L116.51,381.56 L116.43,380.95 L116.40,379.80 L116.43,378.65 L116.51,378.04 L116.64,377.56 L116.82,377.14 L117.06,376.77 L117.35,376.44 L117.70,376.13 L118.10,375.85 L118.56,375.60 L119.07,375.36 L119.64,375.15 L120.27,374.96 L120.96,374.78 L121.71,374.62 L122.54,374.48 L123.44,374.36 L124.43,374.26 L125.51,374.17 L126.73,374.14 L128.10,374.18 L129.75,374.30 L131.96,374.48 L136.64,374.68 L138.85,374.89 L140.50,375.07 L141.87,375.21 L143.09,375.30 L144.17,375.37 L145.16,375.46 L146.06,375.57 L146.89,375.70 L147.64,375.83 L148.33,375.98 L148.96,376.14 L149.53,376.32 L150.04,376.51 L150.50,376.71 L150.90,376.93 L151.25,377.18 L151.54,377.44 L151.78,377.73 L151.96,378.05 L152.09,378.43 L152.17,378.90 Z" fill="#070707"/>
<path d="M197.50,379.20 L197.47,380.11 L197.39,380.59 L197.24,380.97 L197.05,381.30 L196.79,381.60 L196.48,381.87 L196.10,382.11 L195.67,382.34 L195.19,382.55 L194.64,382.76 L194.03,382.95 L193.35,383.12 L192.61,383.29 L191.80,383.45 L190.91,383.60 L189.95,383.73 L188.89,383.83 L187.72,383.91 L186.42,383.98 L184.95,384.04 L183.19,384.10 L180.81,384.15 L175.79,384.24 L173.41,384.37 L171.65,384.45 L170.18,384.48 L168.88,384.44 L167.71,384.36 L166.65,384.26 L165.69,384.15 L164.80,384.02 L163.99,383.87 L163.25,383.71 L162.57,383.53 L161.96,383.33 L161.41,383.11 L160.93,382.87 L160.50,382.61 L160.12,382.33 L159.81,382.02 L159.55,381.67 L159.36,381.28 L159.21,380.83 L159.13,380.28 L159.10,379.20 L159.13,378.12 L159.21,377.57 L159.36,377.12 L159.55,376.73 L159.81,376.38 L160.12,376.07 L160.50,375.79 L160.93,375.53 L161.41,375.29 L161.96,375.07 L162.57,374.87 L163.25,374.69 L163.99,374.53 L164.80,374.38 L165.69,374.25 L166.65,374.14 L167.71,374.04 L168.88,373.96 L170.18,373.92 L171.65,373.95 L173.41,374.03 L175.79,374.16 L180.81,374.27 L183.19,374.36 L184.95,374.44 L186.42,374.52 L187.72,374.59 L188.89,374.67 L189.95,374.78 L190.91,374.91 L191.80,375.06 L192.61,375.22 L193.35,375.39 L194.03,375.57 L194.64,375.76 L195.19,375.96 L195.67,376.17 L196.10,376.39 L196.48,376.63 L196.79,376.89 L197.05,377.17 L197.24,377.49 L197.39,377.86 L197.47,378.32 Z" fill="#070707"/>
<path d="M240.60,378.10 L240.57,378.76 L240.49,379.10 L240.36,379.38 L240.17,379.62 L239.92,379.84 L239.63,380.04 L239.27,380.23 L238.87,380.41 L238.40,380.59 L237.88,380.78 L237.30,380.97 L236.66,381.16 L235.95,381.36 L235.18,381.55 L234.34,381.75 L233.42,381.92 L232.42,382.07 L231.31,382.16 L230.07,382.24 L228.67,382.36 L226.99,382.52 L224.74,382.70 L219.96,382.86 L217.71,382.99 L216.03,383.06 L214.63,383.08 L213.39,383.05 L212.28,382.97 L211.28,382.88 L210.36,382.77 L209.52,382.65 L208.75,382.51 L208.04,382.36 L207.40,382.19 L206.82,382.00 L206.30,381.80 L205.83,381.57 L205.43,381.33 L205.07,381.06 L204.78,380.76 L204.53,380.44 L204.34,380.07 L204.21,379.64 L204.13,379.12 L204.10,378.10 L204.13,377.08 L204.21,376.56 L204.34,376.13 L204.53,375.76 L204.78,375.44 L205.07,375.14 L205.43,374.87 L205.83,374.63 L206.30,374.40 L206.82,374.20 L207.40,374.01 L208.04,373.84 L208.75,373.69 L209.52,373.55 L210.36,373.43 L211.28,373.32 L212.28,373.23 L213.39,373.15 L214.63,373.09 L216.03,373.05 L217.71,373.02 L219.96,373.00 L224.74,373.07 L226.99,373.23 L228.67,373.36 L230.07,373.47 L231.31,373.55 L232.42,373.64 L233.42,373.80 L234.34,373.99 L235.18,374.19 L235.95,374.40 L236.66,374.62 L237.30,374.83 L237.88,375.03 L238.40,375.24 L238.87,375.44 L239.27,375.65 L239.63,375.87 L239.92,376.10 L240.17,376.35 L240.36,376.62 L240.49,376.94 L240.57,377.34 Z" fill="#070707"/>
<path d="M280.20,377.15 L280.18,377.40 L280.12,377.54 L280.01,377.64 L279.87,377.74 L279.68,377.82 L279.45,377.90 L279.18,377.98 L278.86,378.05 L278.50,378.13 L278.10,378.22 L277.65,378.31 L277.15,378.40 L276.61,378.50 L276.01,378.60 L275.36,378.71 L274.65,378.80 L273.88,378.88 L273.02,378.92 L272.07,378.99 L270.98,379.12 L269.69,379.32 L267.95,379.58 L264.25,379.86 L262.51,380.16 L261.22,380.38 L260.13,380.50 L259.18,380.51 L258.32,380.47 L257.55,380.42 L256.84,380.37 L256.19,380.30 L255.59,380.23 L255.05,380.14 L254.55,380.03 L254.10,379.91 L253.70,379.78 L253.34,379.62 L253.02,379.45 L252.75,379.26 L252.52,379.05 L252.33,378.82 L252.19,378.56 L252.08,378.25 L252.02,377.88 L252.00,377.15 L252.02,376.42 L252.08,376.05 L252.19,375.74 L252.33,375.48 L252.52,375.24 L252.75,375.03 L253.02,374.84 L253.34,374.67 L253.70,374.51 L254.10,374.36 L254.55,374.22 L255.05,374.10 L255.59,373.99 L256.19,373.89 L256.84,373.80 L257.55,373.73 L258.32,373.66 L259.18,373.61 L260.13,373.61 L261.22,373.70 L262.51,373.87 L264.25,374.11 L267.95,374.35 L269.69,374.61 L270.98,374.82 L272.07,374.95 L273.02,375.02 L273.88,375.08 L274.65,375.18 L275.36,375.30 L276.01,375.43 L276.61,375.56 L277.15,375.69 L277.65,375.80 L278.10,375.91 L278.50,376.01 L278.86,376.11 L279.18,376.20 L279.45,376.29 L279.68,376.38 L279.87,376.48 L280.01,376.59 L280.12,376.71 L280.18,376.86 Z" fill="#070707"/>
<path d="M152.70,415.50 L152.67,416.70 L152.60,417.32 L152.46,417.83 L152.28,418.26 L152.05,418.65 L151.76,419.00 L151.41,419.31 L151.02,419.60 L150.57,419.87 L150.06,420.11 L149.50,420.34 L148.87,420.54 L148.19,420.72 L147.44,420.88 L146.63,421.03 L145.74,421.15 L144.76,421.26 L143.69,421.35 L142.49,421.44 L141.13,421.55 L139.50,421.67 L137.32,421.81 L132.68,421.92 L130.50,422.02 L128.87,422.06 L127.51,422.06 L126.31,422.00 L125.24,421.90 L124.26,421.78 L123.37,421.64 L122.56,421.48 L121.81,421.30 L121.13,421.10 L120.50,420.87 L119.94,420.63 L119.43,420.36 L118.98,420.06 L118.59,419.74 L118.24,419.38 L117.95,419.00 L117.72,418.57 L117.54,418.09 L117.40,417.53 L117.33,416.83 L117.30,415.50 L117.33,414.17 L117.40,413.47 L117.54,412.91 L117.72,412.43 L117.95,412.00 L118.24,411.62 L118.59,411.26 L118.98,410.94 L119.43,410.64 L119.94,410.37 L120.50,410.13 L121.13,409.90 L121.81,409.70 L122.56,409.52 L123.37,409.36 L124.26,409.22 L125.24,409.10 L126.31,409.00 L127.51,408.96 L128.87,409.01 L130.50,409.15 L132.68,409.36 L137.32,409.53 L139.50,409.66 L141.13,409.78 L142.49,409.89 L143.69,409.98 L144.76,410.06 L145.74,410.16 L146.63,410.28 L147.44,410.42 L148.19,410.57 L148.87,410.74 L149.50,410.93 L150.06,411.14 L150.57,411.37 L151.02,411.62 L151.41,411.90 L151.76,412.20 L152.05,412.53 L152.28,412.89 L152.46,413.30 L152.60,413.78 L152.67,414.37 Z" fill="#070707"/>
<path d="M197.30,415.00 L197.27,416.29 L197.19,416.96 L197.04,417.50 L196.84,417.97 L196.58,418.38 L196.27,418.76 L195.89,419.11 L195.46,419.43 L194.97,419.73 L194.41,420.02 L193.80,420.28 L193.12,420.53 L192.37,420.77 L191.55,420.99 L190.66,421.19 L189.69,421.37 L188.62,421.52 L187.45,421.64 L186.14,421.74 L184.65,421.86 L182.87,421.99 L180.48,422.14 L175.42,422.20 L173.03,422.18 L171.25,422.13 L169.76,422.07 L168.45,421.98 L167.28,421.88 L166.21,421.75 L165.24,421.60 L164.35,421.43 L163.53,421.23 L162.78,421.01 L162.10,420.77 L161.49,420.51 L160.93,420.22 L160.44,419.90 L160.01,419.55 L159.63,419.17 L159.32,418.76 L159.06,418.30 L158.86,417.78 L158.71,417.18 L158.63,416.43 L158.60,415.00 L158.63,413.71 L158.71,413.04 L158.86,412.50 L159.06,412.03 L159.32,411.61 L159.63,411.23 L160.01,410.88 L160.44,410.54 L160.93,410.23 L161.49,409.92 L162.10,409.63 L162.78,409.35 L163.53,409.07 L164.35,408.81 L165.24,408.56 L166.21,408.33 L167.28,408.14 L168.45,408.02 L169.76,407.93 L171.25,407.87 L173.03,407.82 L175.42,407.80 L180.48,407.92 L182.87,408.19 L184.65,408.42 L186.14,408.59 L187.45,408.71 L188.62,408.82 L189.69,408.97 L190.66,409.14 L191.55,409.33 L192.37,409.54 L193.12,409.77 L193.80,410.01 L194.41,410.26 L194.97,410.53 L195.46,410.81 L195.89,411.12 L196.27,411.45 L196.58,411.80 L196.84,412.20 L197.04,412.64 L197.19,413.15 L197.27,413.78 Z" fill="#070707"/>
<path d="M242.60,414.65 L242.57,416.02 L242.48,416.73 L242.33,417.31 L242.13,417.81 L241.86,418.25 L241.54,418.65 L241.15,419.02 L240.70,419.36 L240.20,419.68 L239.62,419.98 L238.99,420.26 L238.29,420.52 L237.52,420.77 L236.68,421.00 L235.76,421.22 L234.75,421.41 L233.65,421.57 L232.44,421.68 L231.09,421.77 L229.55,421.83 L227.73,421.88 L225.26,421.90 L220.04,421.90 L217.57,421.88 L215.75,421.83 L214.21,421.77 L212.86,421.68 L211.65,421.58 L210.55,421.45 L209.54,421.29 L208.62,421.12 L207.78,420.93 L207.01,420.71 L206.31,420.46 L205.68,420.20 L205.10,419.90 L204.60,419.58 L204.15,419.23 L203.76,418.85 L203.44,418.43 L203.17,417.97 L202.97,417.45 L202.82,416.84 L202.73,416.09 L202.70,414.65 L202.73,413.21 L202.82,412.46 L202.97,411.85 L203.17,411.33 L203.44,410.87 L203.76,410.45 L204.15,410.07 L204.60,409.72 L205.10,409.40 L205.68,409.10 L206.31,408.84 L207.01,408.59 L207.78,408.37 L208.62,408.18 L209.54,408.01 L210.55,407.85 L211.65,407.72 L212.86,407.62 L214.21,407.53 L215.75,407.47 L217.57,407.42 L220.04,407.40 L225.26,407.40 L227.73,407.42 L229.55,407.47 L231.09,407.53 L232.44,407.62 L233.65,407.73 L234.75,407.89 L235.76,408.08 L236.68,408.30 L237.52,408.53 L238.29,408.78 L238.99,409.04 L239.62,409.32 L240.20,409.62 L240.70,409.94 L241.15,410.28 L241.54,410.65 L241.86,411.05 L242.13,411.49 L242.33,411.99 L242.48,412.57 L242.57,413.28 Z" fill="#070707"/>
<path d="M287.00,414.05 L286.97,414.77 L286.88,415.15 L286.73,415.45 L286.53,415.72 L286.26,415.98 L285.93,416.24 L285.55,416.51 L285.10,416.81 L284.59,417.16 L284.02,417.55 L283.38,418.00 L282.68,418.50 L281.91,419.03 L281.06,419.56 L280.14,420.01 L279.13,420.30 L278.03,420.44 L276.82,420.62 L275.46,420.83 L273.92,421.06 L272.09,421.25 L269.62,421.30 L264.38,421.30 L261.91,421.28 L260.08,421.23 L258.54,421.17 L257.18,421.08 L255.97,420.98 L254.87,420.85 L253.86,420.68 L252.94,420.47 L252.09,420.23 L251.32,419.97 L250.62,419.70 L249.98,419.41 L249.41,419.10 L248.90,418.77 L248.45,418.43 L248.07,418.05 L247.74,417.65 L247.47,417.21 L247.27,416.71 L247.12,416.13 L247.03,415.42 L247.00,414.05 L247.03,412.75 L247.12,412.08 L247.27,411.53 L247.47,411.06 L247.74,410.64 L248.07,410.25 L248.45,409.88 L248.90,409.54 L249.41,409.21 L249.98,408.88 L250.62,408.57 L251.32,408.26 L252.09,407.96 L252.94,407.69 L253.86,407.44 L254.87,407.25 L255.97,407.12 L257.18,407.02 L258.54,406.93 L260.08,406.87 L261.91,406.82 L264.38,406.80 L269.62,406.80 L272.09,406.85 L273.92,407.04 L275.46,407.27 L276.82,407.48 L278.03,407.66 L279.13,407.80 L280.14,408.09 L281.06,408.54 L281.91,409.07 L282.68,409.60 L283.38,410.10 L284.02,410.55 L284.59,410.94 L285.10,411.29 L285.55,411.59 L285.93,411.86 L286.26,412.12 L286.53,412.38 L286.73,412.65 L286.88,412.95 L286.97,413.33 Z" fill="#070707"/>
</svg></div>
</body></html>
